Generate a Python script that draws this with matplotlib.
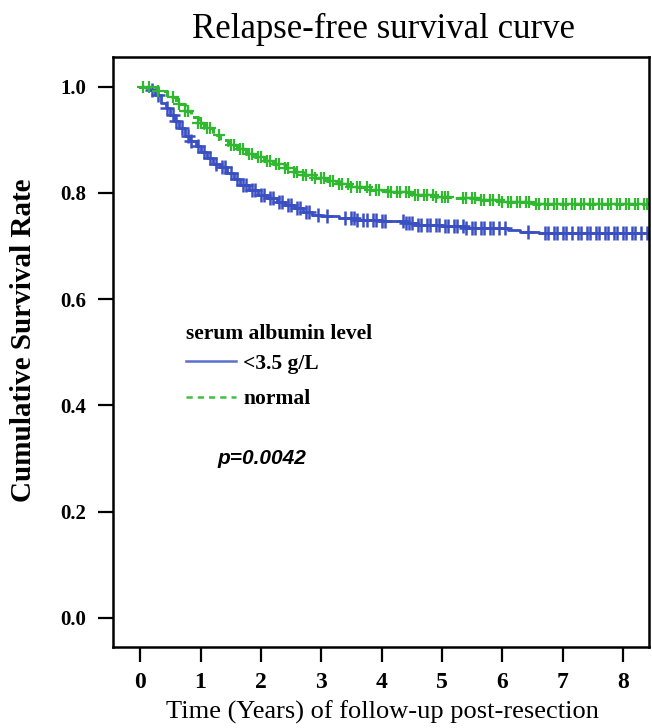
import numpy as np
import matplotlib
matplotlib.use("Agg")
import matplotlib.pyplot as plt
from matplotlib.lines import Line2D

# ---------------- data ----------------
title = "Relapse-free survival curve"
xlabel = "Time (Years) of follow-up post-resection"
ylabel = "Cumulative Survival Rate"
legend_title = "serum albumin level"
labels = ["<3.5 g/L", "normal"]
p_text = "p=0.0042"

x_ticks = [0, 1, 2, 3, 4, 5, 6, 7, 8]
y_ticks = [0.0, 0.2, 0.4, 0.6, 0.8, 1.0]
y_ticklabels = ["0.0", "0.2", "0.4", "0.6", "0.8", "1.0"]

# low albumin group (<3.5 g/L): step times and survival
low_t = [0, 0.15, 0.25, 0.35, 0.42, 0.5, 0.58, 0.65, 0.75, 0.83, 0.92, 1.0, 1.1,
         1.2, 1.32, 1.44, 1.55, 1.66, 1.8, 1.95, 2.1, 2.27, 2.4, 2.55, 2.7, 2.85,
         3.0, 3.3, 3.6, 4.0, 4.4, 4.6, 5.0, 5.4, 6.1, 6.3, 6.6, 8.42]
low_s = [1.0, 0.993, 0.985, 0.970, 0.960, 0.946, 0.935, 0.922, 0.908, 0.897,
         0.888, 0.878, 0.866, 0.855, 0.848, 0.838, 0.826, 0.815, 0.806, 0.797,
         0.790, 0.783, 0.777, 0.771, 0.765, 0.759, 0.756, 0.753, 0.750, 0.747,
         0.744, 0.740, 0.737, 0.734, 0.731, 0.727, 0.724, 0.724]
low_cens = [0.2, 0.3, 0.45, 0.55, 0.6, 0.7, 0.8, 0.85, 0.95, 1.05, 1.15, 1.25,
            1.35, 1.4, 1.5, 1.6, 1.7, 1.75, 1.85, 1.9, 2.0, 2.05, 2.15, 2.2, 2.3,
            2.35, 2.45, 2.5, 2.6, 2.65, 2.75, 2.8, 2.95, 3.1, 3.4, 3.5, 3.55, 3.6,
            3.7, 3.75, 3.85, 3.9, 4.0, 4.05, 4.35, 4.4, 4.45, 4.5, 4.6, 4.65, 4.75,
            4.8, 4.9, 4.95, 5.05, 5.1, 5.2, 5.25, 5.35, 5.4, 5.5, 5.55, 5.65, 5.7,
            5.8, 5.85, 5.95, 6.05, 6.42, 6.7, 6.75, 6.85, 6.9, 7.0, 7.05, 7.15,
            7.25, 7.3, 7.4, 7.45, 7.55, 7.6, 7.7, 7.75, 7.85, 7.9, 8.0, 8.05, 8.15,
            8.2, 8.3, 8.4]

# normal albumin group
norm_t = [0, 0.3, 0.45, 0.6, 0.75, 0.85, 0.95, 1.05, 1.2, 1.32, 1.45, 1.6, 1.75,
          1.9, 2.05, 2.2, 2.4, 2.55, 2.7, 2.9, 3.1, 3.3, 3.5, 3.8, 4.1, 4.5, 4.9,
          5.2, 5.6, 6.0, 6.5, 8.42]
norm_s = [1.0, 0.992, 0.980, 0.968, 0.955, 0.943, 0.932, 0.922, 0.910, 0.900,
          0.891, 0.882, 0.874, 0.867, 0.861, 0.855, 0.847, 0.840, 0.834, 0.828,
          0.822, 0.817, 0.812, 0.806, 0.801, 0.797, 0.793, 0.790, 0.786, 0.783,
          0.780, 0.780]
norm_cens = [0.05, 0.15, 0.3, 0.55, 0.65, 0.75, 0.8, 0.95, 1.0, 1.1, 1.15, 1.3,
             1.5, 1.55, 1.65, 1.7, 1.8, 1.85, 1.95, 2.0, 2.1, 2.15, 2.25, 2.3,
             2.4, 2.45, 2.55, 2.6, 2.7, 2.75, 2.85, 2.9, 3.0, 3.05, 3.15, 3.2,
             3.3, 3.35, 3.45, 3.5, 3.6, 3.65, 3.75, 3.8, 3.9, 3.95, 4.1, 4.15,
             4.25, 4.3, 4.4, 4.45, 4.55, 4.6, 4.7, 4.75, 4.85, 4.9, 5.0, 5.05,
             5.1, 5.35, 5.4, 5.5, 5.55, 5.65, 5.7, 5.8, 5.85, 5.95, 6.0, 6.1,
             6.15, 6.25, 6.3, 6.4, 6.45, 6.55, 6.6, 6.7, 6.75, 6.85, 6.9, 7.0,
             7.05, 7.15, 7.2, 7.3, 7.35, 7.45, 7.5, 7.6, 7.65, 7.75, 7.8, 7.9,
             7.95, 8.05, 8.1, 8.2, 8.25, 8.35, 8.4]

blue = "#3a4fc2"
green = "#2fb830"

# ---------------- figure ----------------
plt.rcParams["font.family"] = ["Liberation Serif", "DejaVu Serif"]
fig = plt.figure(figsize=(6.52, 7.28), dpi=100)
ax = fig.add_axes([113 / 652, 1 - 647 / 728, (649 - 113) / 652, (647 - 57) / 728])


def surv_at(ts, ss, c):
    ts = np.asarray(ts)
    idx = np.searchsorted(ts, c, side="right") - 1
    return np.asarray(ss)[idx]


ax.step(low_t, low_s, where="post", color=blue, lw=2.0)
ax.plot(low_cens, surv_at(low_t, low_s, low_cens), ls="none", marker="+",
        ms=10, mew=1.8, color=blue)
ax.step(norm_t, norm_s, where="post", color=green, lw=2.2, ls=(0, (3, 1.5)))
ax.plot(norm_cens, surv_at(norm_t, norm_s, norm_cens), ls="none", marker="+",
        ms=8, mew=1.6, color=green)

ax.set_xlim(-0.45, 8.43)
ax.set_ylim(-0.055, 1.056)
ax.set_xticks(x_ticks)
ax.set_xticklabels([str(v) for v in x_ticks], fontsize=17, fontweight="bold")
ax.set_yticks(y_ticks)
ax.set_yticklabels(y_ticklabels, fontsize=15, fontweight="bold")
ax.tick_params(axis="both", direction="out", length=11, width=1.6, color="black")
ax.tick_params(axis="x", pad=7)
ax.tick_params(axis="y", pad=8)
for sp in ax.spines.values():
    sp.set_linewidth(1.8)

fig.text(383 / 652, 1 - 29 / 728, title, fontsize=25, ha="center", va="center")
fig.text(382 / 652, 1 - 712 / 728, xlabel, fontsize=19, ha="center", va="center")
fig.text(24 / 652, 1 - 340 / 728, ylabel, fontsize=21, fontweight="bold",
         rotation=90, ha="center", va="center")

handles = [Line2D([], [], color="#5a70cc", lw=1.8),
           Line2D([], [], color="#3fc040", lw=1.8, ls=(0, (2.5, 2)))]
leg = ax.legend(handles, labels, title=legend_title, loc="upper left",
                bbox_to_anchor=(186 / 652, 1 - 324 / 728),
                bbox_transform=fig.transFigure, frameon=False, borderpad=0,
                borderaxespad=0, handlelength=2.3, handletextpad=0.35,
                labelspacing=0.72, alignment="left",
                prop={"family": "Liberation Serif", "weight": "bold", "size": 15.5},
                title_fontproperties={"family": "Liberation Serif",
                                      "weight": "bold", "size": 15.5})
leg._legend_box.sep = 7

fig.text(217 / 652, 1 - 458 / 728, p_text, fontsize=15, fontweight="bold",
         fontstyle="italic", family="Liberation Sans", ha="left", va="center")

fig.savefig("out.png", dpi=100)
